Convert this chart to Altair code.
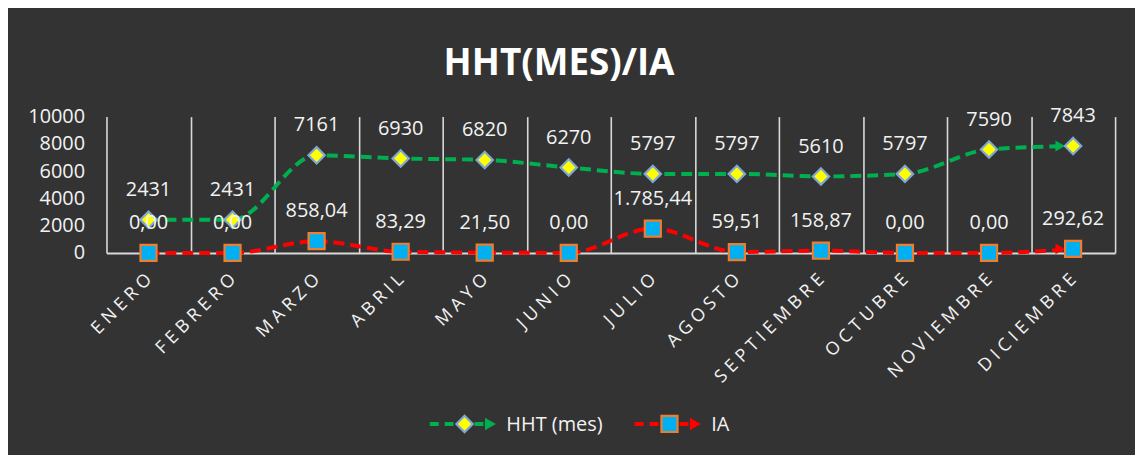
import altair as alt
import pandas as pd

# ---- data ----
months = ["ENERO", "FEBRERO", "MARZO", "ABRIL", "MAYO", "JUNIO", "JULIO",
          "AGOSTO", "SEPTIEMBRE", "OCTUBRE", "NOVIEMBRE", "DICIEMBRE"]
hht = [2431, 2431, 7161, 6930, 6820, 6270, 5797, 5797, 5610, 5797, 7590, 7843]
ia = [0.00, 0.00, 858.04, 83.29, 21.50, 0.00, 1785.44, 59.51, 158.87, 0.00, 0.00, 292.62]
y_ticks = [0, 2000, 4000, 6000, 8000, 10000]
series_names = ["HHT (mes)", "IA"]
title_text = "HHT(MES)/IA"

# ---- styles ----
BG = "#333333"
TXT = "#F2F2F2"
GRID = "#D9D9D9"
GREEN = "#00B050"
RED = "#FF0000"
FONT = "Open Sans"
W, H = 1014, 137

df = pd.DataFrame({"mes": months, "hht": hht, "ia": ia})
last = months[-1]

xenc = alt.X(
    "mes:N", sort=months, title=None,
    scale=alt.Scale(type="band", paddingInner=0, paddingOuter=0),
    axis=alt.Axis(
        tickBand="extent", grid=True, gridColor=GRID, gridWidth=1.6,
        ticks=False, domain=True, domainColor=GRID, domainWidth=2,
        labelAngle=-45, labelAlign="right", labelBaseline="middle",
        labelPadding=24, labelFontSize=18, labelColor=TXT, labelFont=FONT,
        labelExpr="join(split(datum.label, ''), ' ')",
    ),
)
yscale = alt.Scale(domain=[0, 10000], nice=False)
yaxis = alt.Axis(values=y_ticks, format="d", grid=False, domain=False, ticks=False,
                 labelFontSize=20, labelColor=TXT, labelFont=FONT, labelPadding=22)


def yenc(field):
    return alt.Y(field, scale=yscale, axis=yaxis, title=None)


base = alt.Chart(df).encode(x=xenc)

line_hht = base.mark_line(color=GREEN, strokeWidth=4, strokeDash=[11, 6],
                          interpolate="monotone").encode(y=yenc("hht:Q"))
line_ia = base.mark_line(color=RED, strokeWidth=4, strokeDash=[11, 6],
                         interpolate="monotone").encode(y=yenc("ia:Q"))

arrow_hht = base.transform_filter(alt.datum.mes == last).mark_point(
    shape="triangle-right", filled=True, color=GREEN, size=120, opacity=1, xOffset=-13
).encode(y=yenc("hht:Q"))
arrow_ia = base.transform_filter(alt.datum.mes == last).mark_point(
    shape="triangle-right", filled=True, color=RED, size=120, opacity=1, xOffset=-13
).encode(y=yenc("ia:Q"))

pts_hht = base.mark_point(shape="diamond", filled=True, fill="#FFFF00", stroke="#7FA7D3",
                          strokeWidth=2.2, size=270, opacity=1).encode(y=yenc("hht:Q"))
pts_ia = base.mark_point(shape="square", filled=True, fill="#00B0F0", stroke="#ED7D31",
                         strokeWidth=2.2, size=260, opacity=1).encode(y=yenc("ia:Q"))

lbl_hht = base.mark_text(dy=-30, fontSize=20, color=TXT, font=FONT).encode(
    y=yenc("hht:Q"), text=alt.Text("hht:Q", format="d"))
lbl_ia = base.mark_text(dy=-30, fontSize=20, color=TXT, font=FONT).encode(
    y=yenc("ia:Q"), text=alt.Text("ia:Q", format=",.2f"))

title = alt.Chart(pd.DataFrame({"t": [title_text]})).mark_text(
    fontSize=37, fontWeight="bold", color="#FFFFFF", font=FONT,
    align="center", baseline="alphabetic"
).encode(x=alt.value(455), y=alt.value(-42), text="t:N")


def legend_item(name, x0, color, shape, fill, stroke, size):
    d = alt.Chart(pd.DataFrame({"serie": [name]}))
    ly = 309
    ln = d.mark_rule(color=color, strokeWidth=4, strokeDash=[9, 6]).encode(
        x=alt.value(x0), x2=alt.value(x0 + 56), y=alt.value(ly))
    mk = d.mark_point(shape=shape, filled=True, fill=fill, stroke=stroke, strokeWidth=2.2,
                      size=size, opacity=1).encode(x=alt.value(x0 + 35), y=alt.value(ly))
    tri = d.mark_point(shape="triangle-right", filled=True, color=color, size=160,
                       opacity=1).encode(x=alt.value(x0 + 61), y=alt.value(ly))
    tx = d.mark_text(align="left", baseline="middle", fontSize=20, color=TXT,
                     font=FONT).encode(x=alt.value(x0 + 77), y=alt.value(ly + 1), text="serie:N")
    return [ln, mk, tri, tx]


leg = legend_item(series_names[0], 325, GREEN, "diamond", "#FFFF00", "#7FA7D3", 270) + \
      legend_item(series_names[1], 531, RED, "square", "#00B0F0", "#ED7D31", 260)

chart = alt.layer(
    line_hht, line_ia, arrow_hht, arrow_ia, pts_hht, pts_ia, lbl_hht, lbl_ia, title, *leg
).properties(
    width=W, height=H,
    autosize=alt.AutoSizeParams(type="none"),
    padding={"left": 99, "top": 108, "right": 20, "bottom": 202},
    background=BG,
).configure(
    view=alt.ViewConfig(stroke=None),
    locale=alt.Locale(number=alt.NumberLocale(decimal=",", thousands=".", grouping=[3],
                                              currency=["", " €"])),
)

chart.save("out.html", embed_options={"renderer": "svg", "actions": False})
